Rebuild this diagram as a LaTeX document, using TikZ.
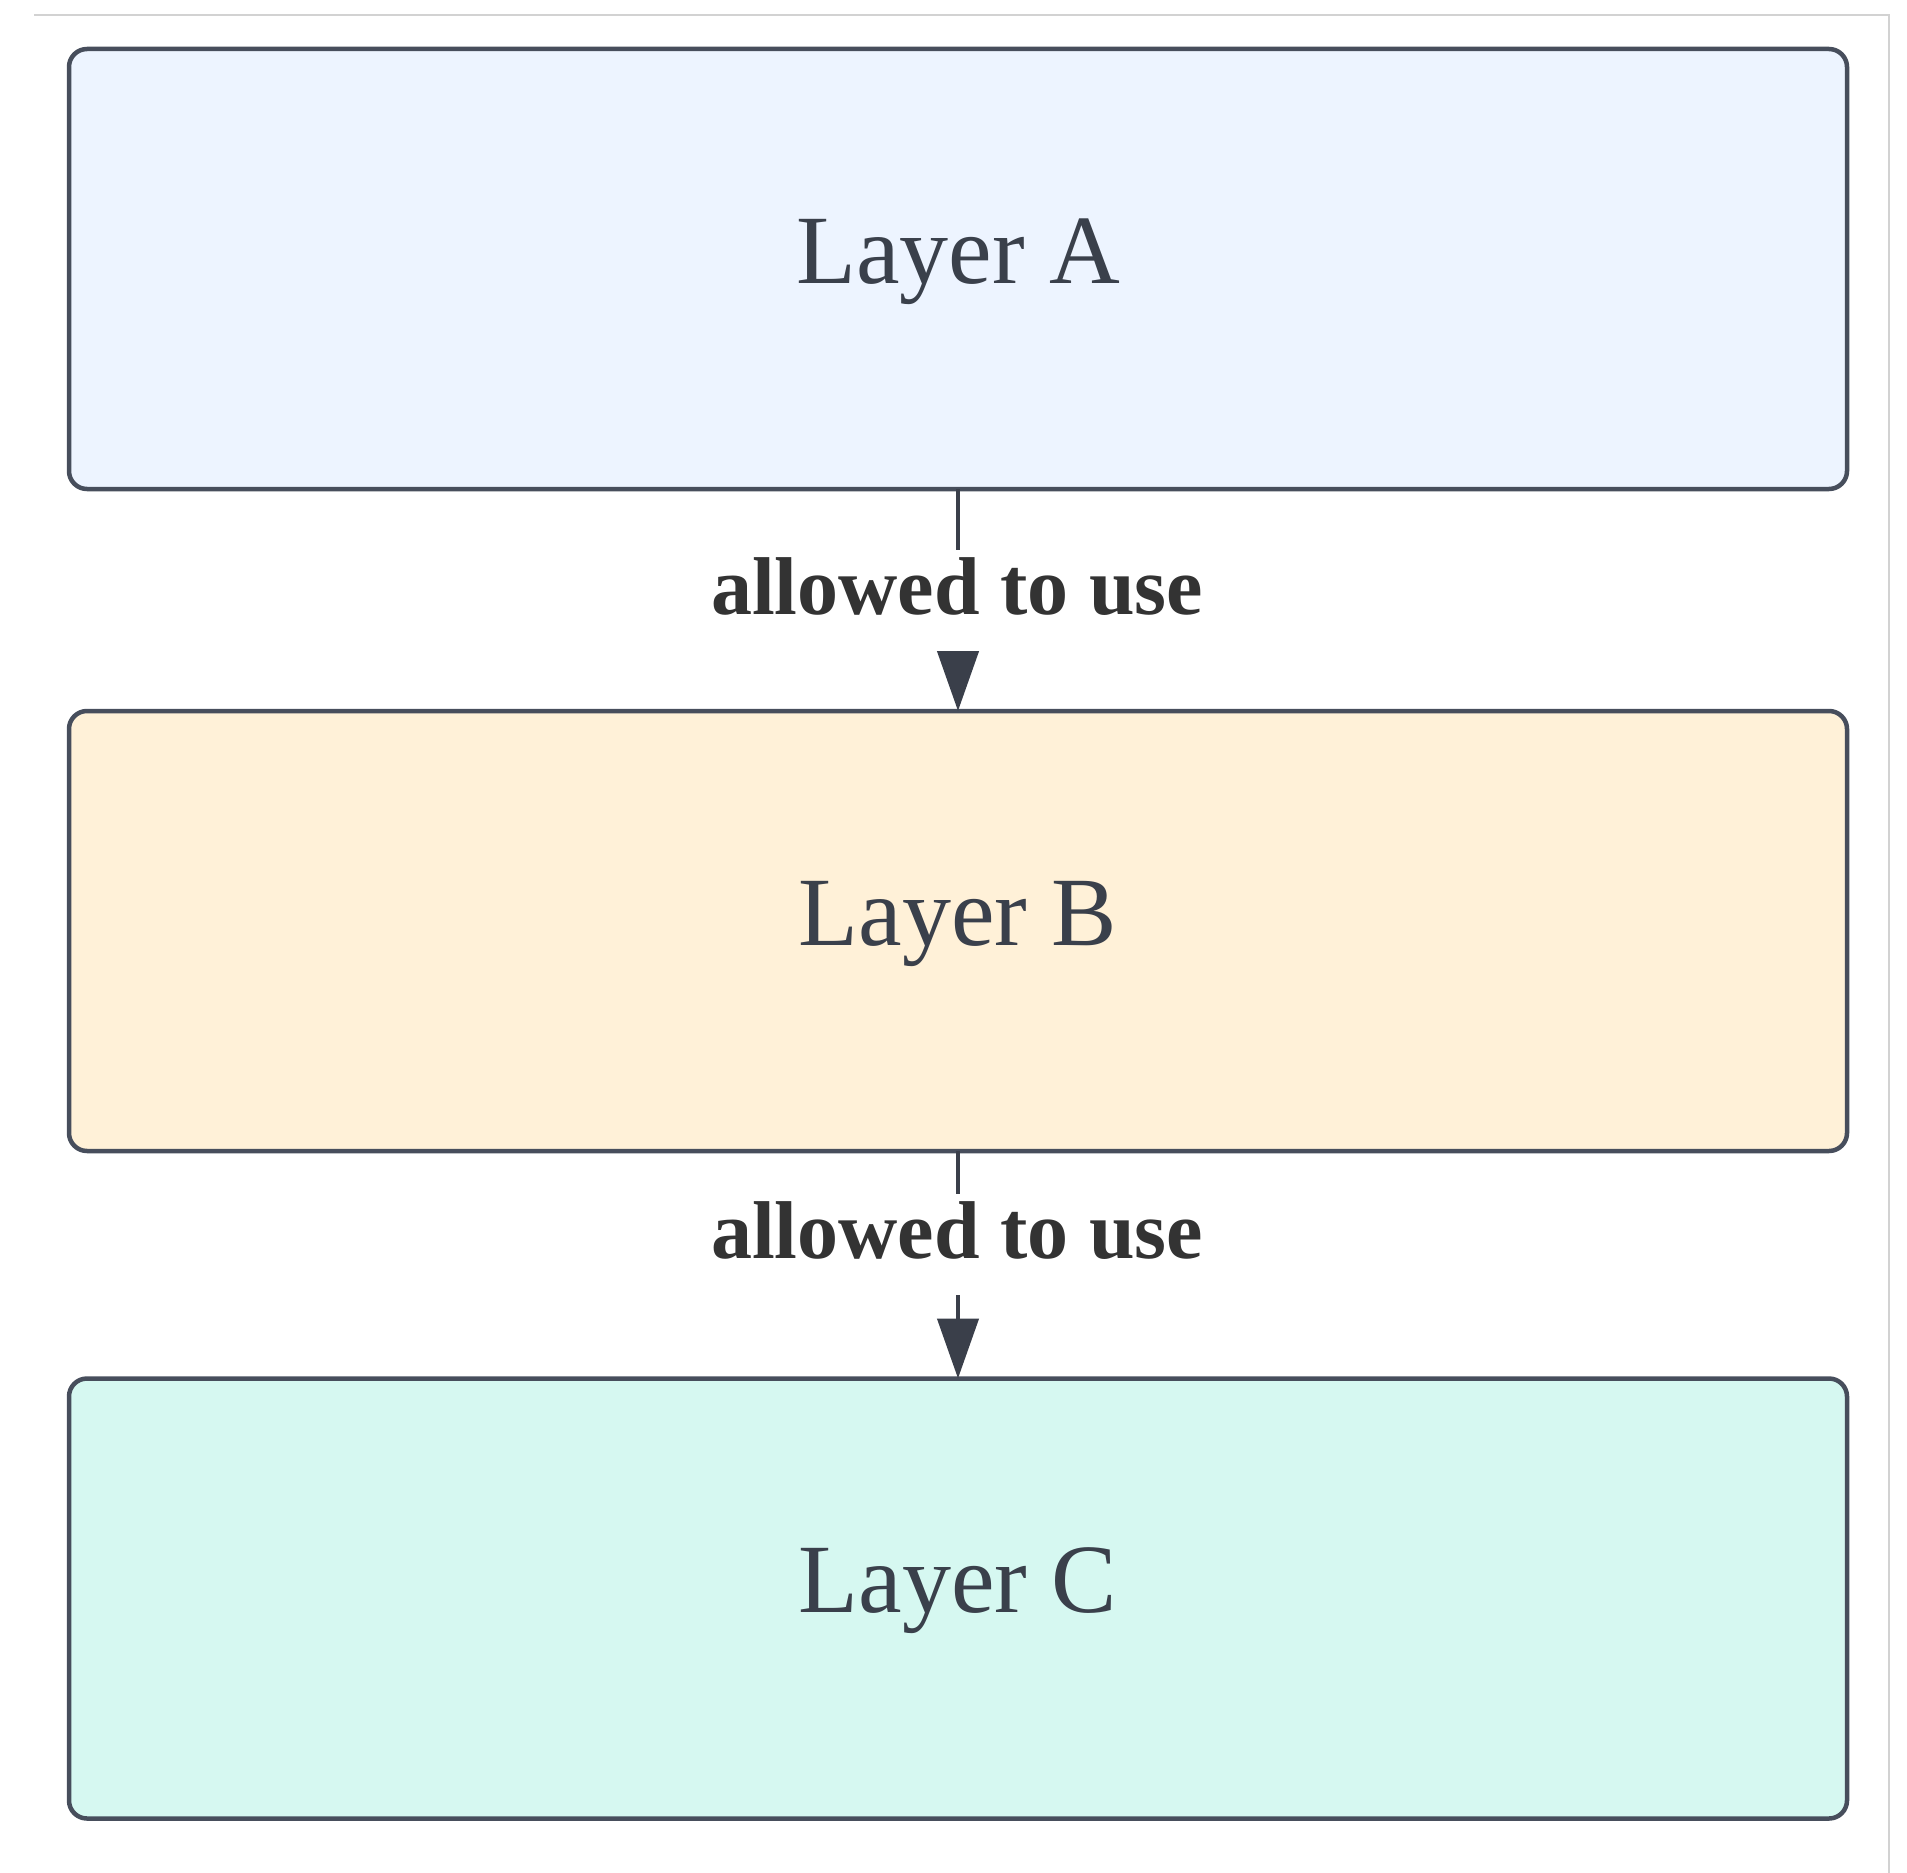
\documentclass[tikz,border=0pt]{standalone}
\usepackage{fontspec}
\setmainfont{Liberation Serif}
\usetikzlibrary{arrows.meta}

\definecolor{frameline}{HTML}{D2D2D2}
\definecolor{boxstroke}{HTML}{474E5C}
\definecolor{fillA}{HTML}{EDF4FF}
\definecolor{fillB}{HTML}{FFF1D8}
\definecolor{fillC}{HTML}{D6F8F1}
\definecolor{layertext}{HTML}{3A404B}
\definecolor{edgetext}{HTML}{333333}
\definecolor{edgeline}{HTML}{3A3F4A}

\begin{document}
\begin{tikzpicture}[x=1pt, y=-1pt,
  layerbox/.style={draw=boxstroke, line width=4.5pt, rounded corners=18pt,
    minimum width=1778pt, minimum height=440pt, inner sep=0pt, outer sep=0pt,
    text=layertext, font=\fontsize{98}{110}\selectfont,
    text height=49pt, text depth=21pt},
  uses/.style={draw=edgeline, line width=4.5pt,
    -{Triangle[length=60pt, width=41pt]}},
  edgelabel/.style={fill=white, anchor=base, text=edgetext,
    font=\fontsize{82}{96}\selectfont\bfseries,
    text height=56pt, text depth=28.5pt, inner ysep=8.5pt, inner xsep=6pt}
]
  % canvas and the thin page frame
  \useasboundingbox (0,0) rectangle (1907,1873);
  \draw[frameline, line width=2pt] (34,15) -- (1889,15) -- (1889,1873);

  % the three layers
  \node[layerbox, fill=fillA] (A) at (958,269)    {Layer A};
  \node[layerbox, fill=fillB] (B) at (958,931)    {Layer B};
  \node[layerbox, fill=fillC] (C) at (958,1598.5) {Layer C};

  % dependencies, each with its label over the line
  \draw[uses] (A.south) -- (B.north);
  \node[edgelabel] (AB) at (957,614) {allowed to use};

  \draw[uses] (B.south) -- (C.north);
  \node[edgelabel] (BC) at (957,1258) {allowed to use};
\end{tikzpicture}
\end{document}
